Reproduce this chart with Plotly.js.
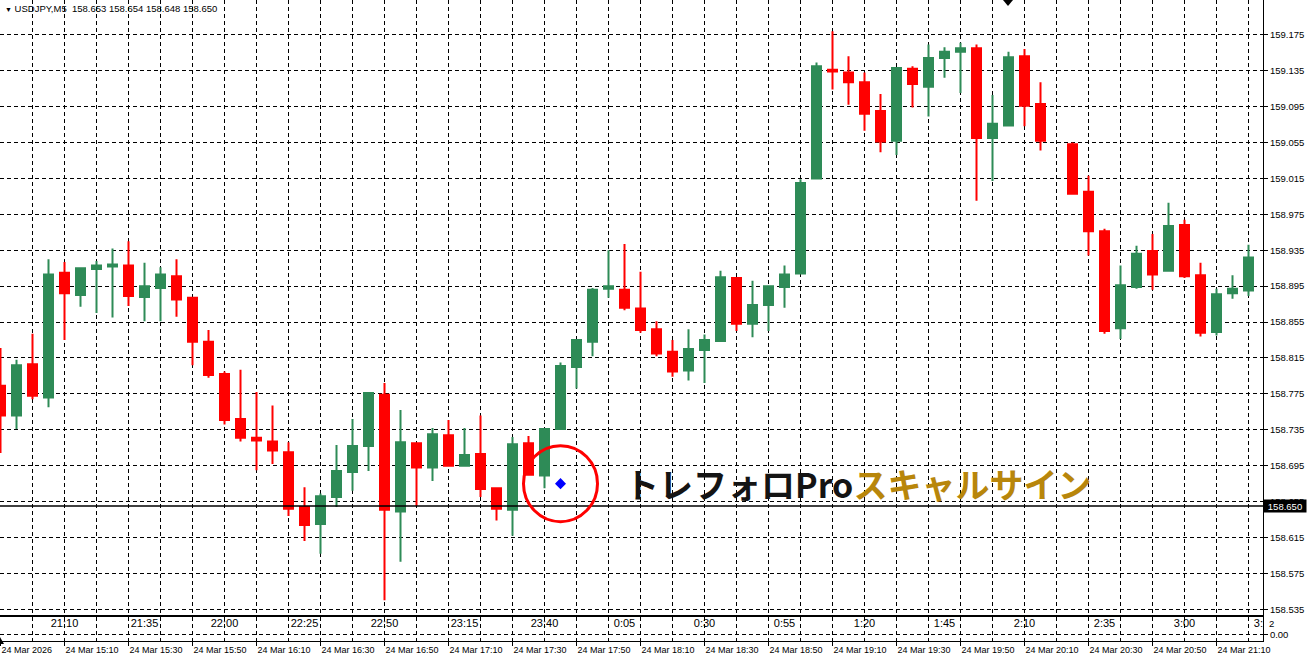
<!DOCTYPE html>
<html><head><meta charset="utf-8">
<script src="https://cdn.plot.ly/plotly-3.0.1.min.js"></script>
<style>html,body{margin:0;padding:0;background:#fff;overflow:hidden}#chart{width:1309px;height:659px;}</style>
</head><body><div id="chart"></div>
<script>
// ---------- data ----------
const symbolName = "USDJPY,M5";
const headerOHLC = ["158.653", "158.654", "158.648", "158.650"];
const bidPrice = 158.650;

const openP = [158.784,158.751,158.808,158.771,158.910,158.885,158.914,158.917,158.918,158.883,
 158.893,158.906,158.882,158.833,158.797,158.747,158.726,158.722,158.710,158.649,
 158.630,158.660,158.688,158.717,158.774,158.644,158.720,158.693,158.729,158.695,
 158.708,158.670,158.646,158.720,158.684,158.736,158.805,158.833,158.892,158.891,
 158.870,158.847,158.822,158.801,158.824,158.834,158.904,158.853,158.874,158.894,
 158.909,159.015,159.136,159.133,159.122,159.090,159.057,159.137,159.117,159.149,
 159.156,159.160,159.060,159.074,159.151,159.098,null,159.053,159.000,158.956,
 158.848,158.894,158.934,158.912,158.963,158.907,158.844,158.887,158.890];
const highP = [158.826,158.813,158.842,158.925,158.922,158.915,158.923,158.937,158.945,158.921,
 158.916,158.925,158.883,158.846,158.800,158.802,158.777,158.762,158.721,158.671,
 158.664,158.718,158.747,158.777,158.787,158.757,158.721,158.737,158.746,158.737,
 158.751,158.671,158.727,158.728,158.737,158.810,158.836,158.893,158.935,158.942,
 158.911,158.856,158.835,158.847,158.841,158.912,158.905,158.901,158.896,158.918,
 159.014,159.144,159.179,159.151,159.133,159.109,159.139,159.140,159.164,159.161,
 159.166,159.164,159.108,159.156,159.159,159.122,null,159.055,159.018,158.959,
 158.918,158.940,158.953,158.988,158.969,158.921,158.892,158.907,158.941];
const lowP = [158.709,158.736,158.769,158.760,158.835,158.872,158.865,158.860,158.873,158.856,
 158.856,158.861,158.807,158.793,158.741,158.722,158.690,158.697,158.639,158.611,
 158.597,158.649,158.667,158.689,158.545,158.588,158.650,158.678,158.694,158.694,
 158.660,158.634,158.617,158.684,158.670,158.735,158.781,158.817,158.882,158.868,
 158.843,158.817,158.794,158.790,158.787,158.833,158.845,158.838,158.845,158.871,
 158.908,159.014,159.114,159.097,159.068,159.044,159.041,159.094,159.084,159.127,
 159.110,158.990,159.012,159.073,159.073,159.046,null,158.997,158.929,158.842,
 158.836,158.892,158.891,158.911,158.904,158.839,158.840,158.881,158.884];
const closeP = [158.751,158.807,158.773,158.908,158.887,158.915,158.918,158.919,158.884,158.895,
 158.908,158.880,158.833,158.796,158.746,158.726,158.723,158.712,158.647,158.629,
 158.661,158.689,158.717,158.776,158.646,158.721,158.693,158.730,158.695,158.707,
 158.669,158.647,158.719,158.685,158.736,158.806,158.835,158.891,158.895,158.871,
 158.846,158.820,158.800,158.825,158.835,158.905,158.853,158.874,158.895,158.908,
 159.010,159.140,159.134,159.122,159.087,159.056,159.138,159.120,159.149,159.156,
 159.160,159.060,159.076,159.150,159.096,159.057,null,158.998,158.956,158.845,
 158.896,158.931,158.908,158.962,158.906,158.843,158.886,158.892,158.927];

const signalBar = [35];
const signalPrice = [158.675];
const signalTextDark = "トレフォロPro";
const signalTextGold = "スキャルサイン";

const topTimeBars = [4,9,14,19,24,29,34,39,44,49,54,59,64,69,74,79];
const topTimeLabels = ["21:10","21:35","22:00","22:25","22:50","23:15","23:40","0:05",
 "0:30","0:55","1:20","1:45","2:10","2:35","3:00","3:25"];
const bottomTickBars = [0,4,8,12,16,20,24,28,32,36,40,44,48,52,56,60,64,68,72,76];
const bottomTickLabels = ["24 Mar 2026","24 Mar 15:10","24 Mar 15:30","24 Mar 15:50","24 Mar 16:10",
 "24 Mar 16:30","24 Mar 16:50","24 Mar 17:10","24 Mar 17:30","24 Mar 17:50","24 Mar 18:10",
 "24 Mar 18:30","24 Mar 18:50","24 Mar 19:10","24 Mar 19:30","24 Mar 19:50","24 Mar 20:10",
 "24 Mar 20:30","24 Mar 20:50","24 Mar 21:10"];
const subLabels = ["2", "0.00"];

// ---------- layout geometry ----------
const W = 1309, H = 659;
const plotRight = 1263;
const xd = plotRight / W;
const pxPerBar = 16;
const xMin = -0.5 / pxPerBar;
const xMax = xMin + plotRight / pxPerBar;
const mainBottomPx = 615, subTopPx = 617, subBottomPx = 641;
const yRange = [158.5287, 159.2137];
const FONT = "Liberation Sans, Arial, sans-serif";
const GRIDDASH = "4px,3px";

// build candle arrays skipping missing bars
const cx = [], co = [], ch = [], cl = [], cc = [];
openP.forEach((v, i) => {
  if (v === null) return;
  cx.push(i); co.push(v); ch.push(highP[i]); cl.push(lowP[i]); cc.push(closeP[i]);
});

const traces = [
  {
    type: 'candlestick', x: cx, open: co, high: ch, low: cl, close: cc,
    xaxis: 'x', yaxis: 'y', whiskerwidth: 0, hoverinfo: 'none',
    increasing: {line: {color: '#2E8B57', width: 2}, fillcolor: '#2E8B57'},
    decreasing: {line: {color: '#FF0000', width: 2}, fillcolor: '#FF0000'}
  },
  {
    type: 'scatter', mode: 'markers', x: signalBar, y: signalPrice, xaxis: 'x', yaxis: 'y',
    marker: {symbol: 'diamond', size: 8.5, color: '#0000FF'}, hoverinfo: 'skip'
  },
  {
    type: 'scatter', mode: 'text', x: topTimeBars, y: topTimeBars.map(() => 1.5),
    text: topTimeLabels, xaxis: 'x2', yaxis: 'y2', cliponaxis: true,
    textfont: {family: FONT, size: 11, color: '#000'}, hoverinfo: 'skip'
  }
];

const gridStyle = {showgrid: true, gridcolor: '#000', gridwidth: 1, griddash: GRIDDASH};

const layout = {
  width: W, height: H,
  margin: {l: 0, r: 0, t: 0, b: 0, pad: 0},
  paper_bgcolor: '#fff', plot_bgcolor: '#fff',
  showlegend: false, hovermode: false, dragmode: false,
  boxgap: 0.4375, boxgroupgap: 0,
  font: {family: FONT, size: 9, color: '#000'},
  xaxis: Object.assign({
    domain: [0, xd], range: [xMin, xMax], anchor: 'y',
    tickmode: 'linear', tick0: 0, dtick: 2, showticklabels: false, ticks: '',
    showline: true, linecolor: '#000', linewidth: 1, zeroline: false,
    rangeslider: {visible: false}, fixedrange: true
  }, gridStyle),
  yaxis: Object.assign({
    domain: [(H - mainBottomPx) / H, 1], range: yRange, anchor: 'x', side: 'right',
    tickmode: 'linear', tick0: 158.535, dtick: 0.04, tickformat: '.3f',
    ticks: 'outside', ticklen: 4, tickcolor: '#000', tickfont: {family: FONT, size: 9.5, color: '#000'},
    showline: true, linecolor: '#000', linewidth: 1, zeroline: false, fixedrange: true
  }, gridStyle),
  xaxis2: Object.assign({
    domain: [0, xd], range: [xMin, xMax], anchor: 'y2',
    tickmode: 'array', tickvals: bottomTickBars, ticktext: bottomTickLabels, tickangle: 0,
    ticks: 'outside', ticklen: 4, tickcolor: '#000', ticklabelposition: 'outside right',
    tickfont: {family: FONT, size: 9, color: '#000'},
    minor: {tick0: 0, dtick: 2, showgrid: true, gridcolor: '#000', gridwidth: 1, griddash: GRIDDASH, ticks: ''},
    showline: true, mirror: true, linecolor: '#000', linewidth: 1, zeroline: false, fixedrange: true
  }, gridStyle),
  yaxis2: Object.assign({
    domain: [(H - subBottomPx) / H, (H - subTopPx) / H], range: [-1, 2.6], anchor: 'x2', side: 'right',
    tickmode: 'array', tickvals: [0], ticktext: [subLabels[1]],
    ticks: 'outside', ticklen: 4, tickcolor: '#000', tickfont: {family: FONT, size: 9.5, color: '#000'},
    showline: true, linecolor: '#000', linewidth: 1, zeroline: false, fixedrange: true
  }, gridStyle),
  shapes: [
    {type: 'line', xref: 'paper', x0: 0, x1: xd, yref: 'y', y0: bidPrice, y1: bidPrice,
     line: {color: '#000', width: 1.5}},
    {type: 'circle', xref: 'x', yref: 'y', xsizemode: 'pixel', ysizemode: 'pixel',
     xanchor: signalBar[0], yanchor: signalPrice[0], x0: -37, x1: 37, y0: -38, y1: 38,
     line: {color: '#FF0000', width: 3}},
    {type: 'path', xref: 'paper', yref: 'paper',
     path: `M ${1003/W} ${1 - 0/H} L ${1013/W} ${1 - 0/H} L ${1008/W} ${1 - 6/H} Z`,
     fillcolor: '#000', line: {width: 0}},
    {type: 'path', xref: 'paper', yref: 'paper',
     path: `M 0 ${1 - 637/H} L ${4/W} ${1 - 644/H} L 0 ${1 - 644/H} Z`,
     fillcolor: '#000', line: {width: 0}}
  ],
  annotations: [
    {xref: 'paper', yref: 'paper', x: 3 / W, y: 1 - 9 / H, xanchor: 'left', yanchor: 'middle',
     showarrow: false, font: {family: FONT, size: 9.5, color: '#000'},
     text: '<span style="font-size:7px">▼</span> ' + symbolName + '  ' + headerOHLC.join(' ')},
    {xref: 'paper', yref: 'y', x: xd, y: bidPrice, xanchor: 'left', yanchor: 'middle',
     showarrow: false, bgcolor: '#000', width: 40, height: 10, borderpad: 1,
     font: {family: FONT, size: 9.5, color: '#fff'}, text: bidPrice.toFixed(3)},
    {xref: 'paper', yref: 'y2', x: 1267 / W, y: 1.7, xanchor: 'left', yanchor: 'middle',
     showarrow: false, font: {family: FONT, size: 9.5, color: '#000'}, text: subLabels[0]},
    {xref: 'x', yref: 'y', x: signalBar[0], y: signalPrice[0], xanchor: 'left', yanchor: 'middle',
     xshift: 62, showarrow: false,
     font: {family: 'Noto Sans CJK JP, sans-serif', size: 34, color: '#111'},
     text: '<b><span style="color:#141414">' + signalTextDark + '</span><span style="color:#B8860B">' + signalTextGold + '</span></b>'}
  ]
};

Plotly.newPlot('chart', traces, layout, {staticPlot: true, displayModeBar: false});
</script>
</body></html>
